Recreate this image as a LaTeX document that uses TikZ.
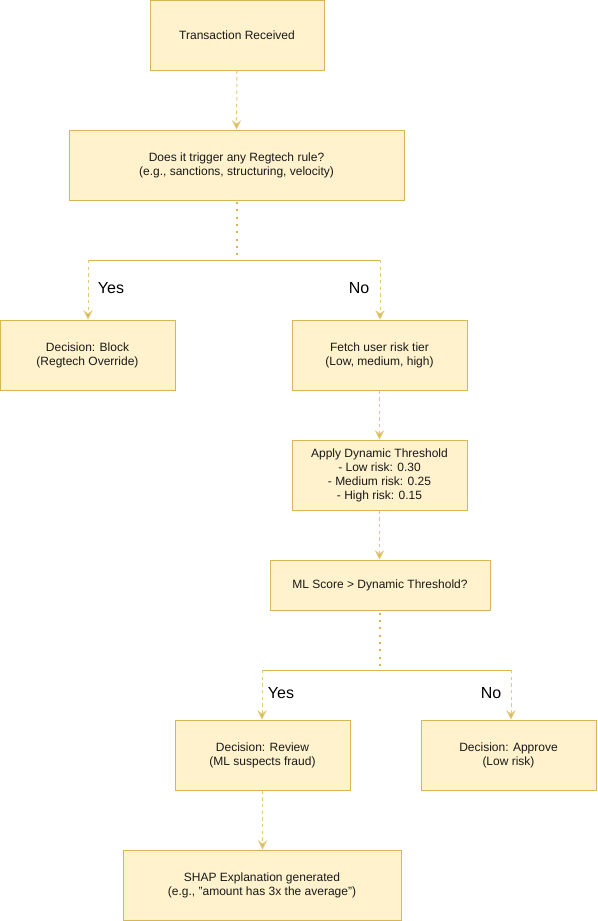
\documentclass[tikz,border=0pt]{standalone}
\usepackage{fontspec}
\setmainfont{Liberation Sans}
\usetikzlibrary{arrows.meta}
\definecolor{boxfill}{HTML}{FFF2CC}
\definecolor{boxline}{HTML}{D6B656}
\definecolor{arrline}{HTML}{E3C878}
\begin{document}
\begin{tikzpicture}[x=0.75pt,y=-0.75pt,
  box/.style={draw=boxline,fill=boxfill,line width=0.75pt,align=center,
    font=\fontsize{9}{10.5}\selectfont,inner sep=0pt,text=black!90},
  dasharrow/.style={draw=arrline,line width=0.75pt,dash pattern=on 2.5pt off 2.5pt,
    -{Stealth[length=7pt,width=7pt,inset=2.5pt,fill=boxline]}},
  dotline/.style={draw=boxline,line width=1pt,dash pattern=on 1.5pt off 4pt},
  solidline/.style={draw=boxline,line width=0.75pt},
  lbl/.style={font=\fontsize{12}{14}\selectfont,text=black}]
\useasboundingbox (0,0) rectangle (598,921);
\node[box,minimum width=174*0.75pt,minimum height=70*0.75pt] (tr) at (237,35) {Transaction Received};
\node[box,minimum width=335*0.75pt,minimum height=70*0.75pt] (rule) at (236.5,165) {Does it trigger any Regtech rule?\\(e.g., sanctions, structuring, velocity)};
\node[box,minimum width=175*0.75pt,minimum height=70*0.75pt] (block) at (87.5,355) {Decision: Block\\(Regtech Override)};
\node[box,minimum width=175*0.75pt,minimum height=70*0.75pt] (fetch) at (379.5,355) {Fetch user risk tier\\(Low, medium, high)};
\node[box,minimum width=175*0.75pt,minimum height=70*0.75pt] (apply) at (379.5,475) {Apply Dynamic Threshold\\- Low risk: 0.30\\- Medium risk: 0.25\\- High risk: 0.15};
\node[box,minimum width=220*0.75pt,minimum height=50*0.75pt] (ml) at (380,585) {ML Score > Dynamic Threshold?};
\node[box,minimum width=175*0.75pt,minimum height=70*0.75pt] (review) at (262.5,755) {Decision: Review\\(ML suspects fraud)};
\node[box,minimum width=175*0.75pt,minimum height=70*0.75pt] (approve) at (508.5,755) {Decision: Approve\\(Low risk)};
\node[box,minimum width=278*0.75pt,minimum height=70*0.75pt] (shap) at (262,885) {SHAP Explanation generated\\(e.g., "amount has 3x the average")};

\coordinate (b1) at (237,260);
\coordinate (b1t) at (237,202);
\coordinate (b1l) at (88,260);
\coordinate (b1r) at (380,260);
\coordinate (b2) at (380,670);
\coordinate (b2l) at (262,670);
\coordinate (b2r) at (511,670);

\draw[dasharrow] (tr.south) -- (rule.north);
\draw[dotline] (b1t) -- (b1);
\draw[solidline] (b1l) -- (b1r);
\draw[dasharrow] (b1l) -- (b1l |- block.north);
\draw[dasharrow] (b1r) -- (b1r |- fetch.north);
\node[lbl] (yes1) at (111,288) {Yes};
\node[lbl] (no1) at (359,288) {No};
\draw[dasharrow] (fetch.south -| apply.north) -- (apply.north);
\draw[dasharrow] (apply.south) -- (apply.south |- ml.north);
\draw[dotline] ([yshift=-1.5pt]ml.south) -- (b2);
\draw[solidline] (b2l) -- (b2r);
\draw[dasharrow] (b2l) -- (b2l |- review.north);
\draw[dasharrow] (b2r) -- (b2r |- approve.north);
\node[lbl] (yes2) at (281,693) {Yes};
\node[lbl] (no2) at (491,693) {No};
\draw[dasharrow] (review.south) -- (review.south |- shap.north);
\end{tikzpicture}
\end{document}
